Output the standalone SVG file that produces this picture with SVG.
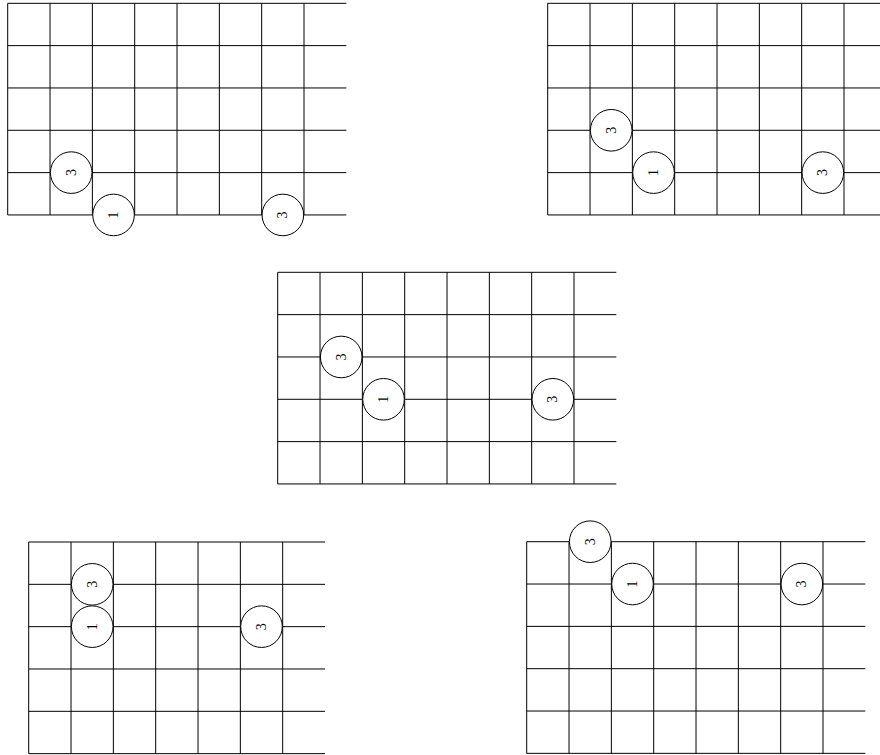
<svg xmlns="http://www.w3.org/2000/svg" xmlns:xlink="http://www.w3.org/1999/xlink" width="880" height="755" viewBox="0 0 880 755">
<style>
.grid{fill:none;stroke:#000;stroke-width:1}
.dot circle{fill:#fff;stroke:#000;stroke-width:1}
.dot text{font-family:"Liberation Serif","Times New Roman",serif;font-size:14px;fill:#000;text-anchor:middle;dominant-baseline:central}
</style>
<defs>
<path id="grid8" class="grid" d="M0 0H338.64M0 42.33H338.64M0 84.66H338.64M0 126.99H338.64M0 169.32H338.64M0 211.65H338.64M0 0V211.65M42.33 0V211.65M84.66 0V211.65M126.99 0V211.65M169.32 0V211.65M211.65 0V211.65M253.98 0V211.65M296.31 0V211.65"/>
<path id="grid7" class="grid" d="M0 0H296.31M0 42.33H296.31M0 84.66H296.31M0 126.99H296.31M0 169.32H296.31M0 211.65H296.31M0 0V211.65M42.33 0V211.65M84.66 0V211.65M126.99 0V211.65M169.32 0V211.65M211.65 0V211.65M253.98 0V211.65"/>
</defs>

<g id="diagram1" transform="translate(7.7,3.3)">
<use xlink:href="#grid8" href="#grid8"/>
<g id="d1-n1" class="dot"><circle cx="63.5" cy="169.32" r="20.8"/><text transform="translate(63.5,169.32) rotate(-90)">3</text></g>
<g id="d1-n2" class="dot"><circle cx="105.83" cy="211.65" r="20.8"/><text transform="translate(105.83,211.65) rotate(-90)">1</text></g>
<g id="d1-n3" class="dot"><circle cx="275.15" cy="211.65" r="20.8"/><text transform="translate(275.15,211.65) rotate(-90)">3</text></g>
</g>

<g id="diagram2" transform="translate(547.7,3.3)">
<use xlink:href="#grid8" href="#grid8"/>
<g id="d2-n1" class="dot"><circle cx="63.5" cy="126.99" r="20.8"/><text transform="translate(63.5,126.99) rotate(-90)">3</text></g>
<g id="d2-n2" class="dot"><circle cx="105.83" cy="169.32" r="20.8"/><text transform="translate(105.83,169.32) rotate(-90)">1</text></g>
<g id="d2-n3" class="dot"><circle cx="275.15" cy="169.32" r="20.8"/><text transform="translate(275.15,169.32) rotate(-90)">3</text></g>
</g>

<g id="diagram3" transform="translate(277.7,272.3)">
<use xlink:href="#grid8" href="#grid8"/>
<g id="d3-n1" class="dot"><circle cx="63.5" cy="84.66" r="20.8"/><text transform="translate(63.5,84.66) rotate(-90)">3</text></g>
<g id="d3-n2" class="dot"><circle cx="105.83" cy="126.99" r="20.8"/><text transform="translate(105.83,126.99) rotate(-90)">1</text></g>
<g id="d3-n3" class="dot"><circle cx="275.15" cy="126.99" r="20.8"/><text transform="translate(275.15,126.99) rotate(-90)">3</text></g>
</g>

<g id="diagram4" transform="translate(28.7,542)">
<use xlink:href="#grid7" href="#grid7"/>
<g id="d4-n1" class="dot"><circle cx="63.5" cy="42.33" r="20.8"/><text transform="translate(63.5,42.33) rotate(-90)">3</text></g>
<g id="d4-n2" class="dot"><circle cx="63.5" cy="84.66" r="20.8"/><text transform="translate(63.5,84.66) rotate(-90)">1</text></g>
<g id="d4-n3" class="dot"><circle cx="232.8" cy="84.66" r="20.8"/><text transform="translate(232.8,84.66) rotate(-90)">3</text></g>
</g>

<g id="diagram5" transform="translate(526.7,541.7)">
<use xlink:href="#grid8" href="#grid8"/>
<g id="d5-n1" class="dot"><circle cx="63.5" cy="0" r="20.8"/><text transform="translate(63.5,0) rotate(-90)">3</text></g>
<g id="d5-n2" class="dot"><circle cx="105.83" cy="42.33" r="20.8"/><text transform="translate(105.83,42.33) rotate(-90)">1</text></g>
<g id="d5-n3" class="dot"><circle cx="275.15" cy="42.33" r="20.8"/><text transform="translate(275.15,42.33) rotate(-90)">3</text></g>
</g>

<g id="connectors"/>
</svg>
